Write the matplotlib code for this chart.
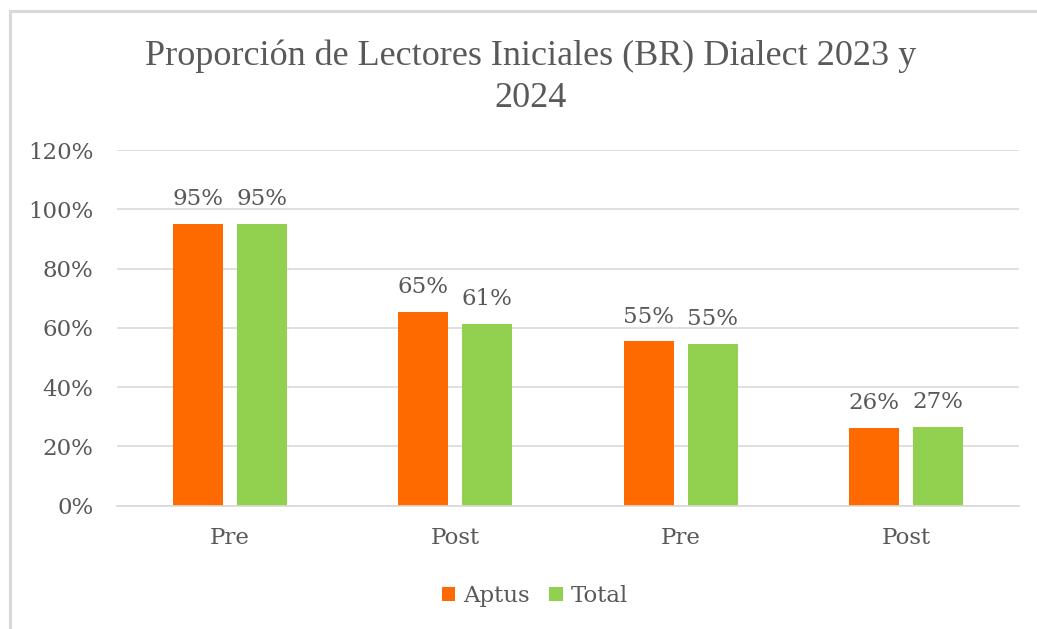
import matplotlib
matplotlib.use("Agg")
import matplotlib.pyplot as plt
import numpy as np
from matplotlib.patches import Rectangle

categories = ["Pre", "Post", "Pre", "Post"]
series_names = ["Aptus", "Total"]
aptus = [95.2, 65.4, 55.4, 26.3]
total = [95.2, 61.3, 54.6, 26.7]
yticks = [0, 20, 40, 60, 80, 100, 120]
title = "Proporción de Lectores Iniciales (BR) Dialect 2023 y\n2024"

colors = ["#FF6A00", "#92D050"]
text_color = "#595959"
font = ["DejaVu Serif"]
title_font = ["Liberation Serif", "DejaVu Serif"]
fs = 16.5

W, H = 1037, 629
fig = plt.figure(figsize=(W / 100, H / 100), dpi=100)

# chart frame (partially cut off)
fig.patches.append(Rectangle((9.5 / W, -0.1), 1.2, 1 - 11.5 / H + 0.1,
                             transform=fig.transFigure, fill=False,
                             edgecolor="#d9d9d9", linewidth=2.2, zorder=0))

left, right = 117 / W, 1019 / W
bottom, top = 1 - 505.7 / H, 1 - 150 / H
ax = fig.add_axes([left, bottom, right - left, top - bottom])

x = np.arange(len(categories))
bw = 0.222
off = 0.142
for vals, c, name, sgn in [(aptus, colors[0], series_names[0], -1),
                           (total, colors[1], series_names[1], 1)]:
    bars = ax.bar(x + sgn * off, vals, width=bw, color=c, label=name, zorder=2)
    for b, v in zip(bars, vals):
        ax.text(b.get_x() + b.get_width() / 2, v + 4.6, f"{round(v):d}%",
                ha="center", va="bottom", fontsize=fs, color=text_color,
                family=font)

ax.set_xlim(-0.5, len(categories) - 0.5)
ax.set_ylim(0, 120)
ax.set_yticks(yticks)
ax.set_yticklabels([f"{t}%" for t in yticks], family=font, fontsize=fs,
                   color=text_color)
ax.set_xticks(x)
ax.set_xticklabels(categories, family=font, fontsize=fs, color=text_color)
ax.tick_params(axis="both", length=0)
ax.tick_params(axis="y", pad=17)
ax.tick_params(axis="x", pad=15)
ax.yaxis.grid(True, color="#d9d9d9", linewidth=1.2, zorder=0)
ax.set_axisbelow(True)
for s in ["top", "right", "left"]:
    ax.spines[s].set_visible(False)
ax.spines["bottom"].set_color("#d9d9d9")
ax.spines["bottom"].set_linewidth(1.2)

fig.text(531 / W, 1 - 77 / H, title, ha="center", va="center",
         fontsize=26, color=text_color, family=title_font, linespacing=1.35)

leg = fig.legend(loc="center", bbox_to_anchor=(535 / W, 1 - 596 / H), ncol=2,
                 frameon=False, prop={"family": font, "size": fs},
                 handlelength=0.6, handleheight=0.6, handletextpad=0.35,
                 columnspacing=0.85)
for t in leg.get_texts():
    t.set_color(text_color)

fig.savefig("out.png", dpi=100, facecolor="white")
